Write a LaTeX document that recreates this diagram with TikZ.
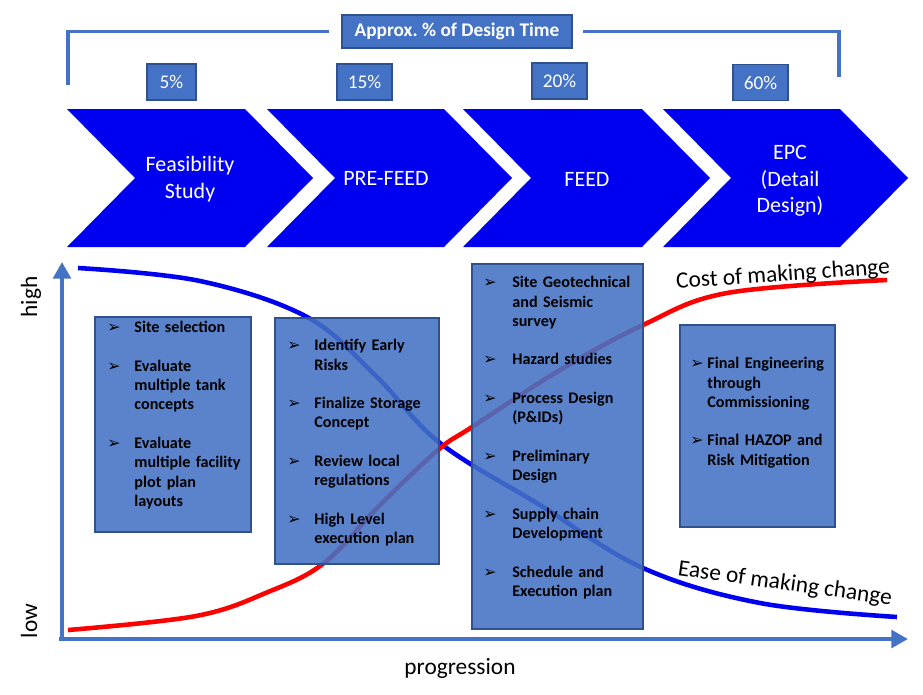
\documentclass[tikz,border=0pt]{standalone}
\usepackage{fontspec}
\setmainfont{Carlito}
\newfontfamily\bulletfont{DejaVu Sans}
\usepackage{tikz}
\usetikzlibrary{arrows.meta,fit,positioning}
\definecolor{chevblue}{HTML}{0000F0}
\definecolor{accblue}{HTML}{4472C4}
\definecolor{edgeblue}{HTML}{2F528F}
\definecolor{costred}{HTML}{FF0000}
\definecolor{easeblue}{HTML}{0000F0}
\newlength\bulletwd
\newcommand{\phaseitem}[1]{\par\noindent\hangindent=\bulletwd\hangafter=1\makebox[\bulletwd][l]{\bulletfont\fontsize{9}{9}\selectfont ➢}#1\par\vspace{11pt}}

\begin{document}
\begin{tikzpicture}[x=0.02cm, y=-0.02cm,
	axis/.style={line width=2.8pt, accblue, -{Triangle[width=10pt,length=9.5pt]}},
	bracket/.style={line width=1.8pt, accblue},
	chevron/.style={fill=chevblue},
	chevtext/.style={text=white, align=center, font=\fontsize{12.5}{15.2}\selectfont},
	pctbox/.style={draw=edgeblue, fill=accblue, line width=0.7pt, inner sep=0pt, minimum height=0.72cm, minimum width=1.1cm, text=white, font=\fontsize{11}{13}\selectfont},
	listbox/.style={draw=edgeblue, fill=accblue, fill opacity=0.88, line width=0.6pt, inner sep=0pt},
	listtext/.style={anchor=north west, inner sep=0pt, text width=#1, text=black, font=\fontsize{9.2}{11}\selectfont\bfseries},
	curvelabel/.style={text=black, inner sep=0pt, font=\fontsize{13.3}{16}\selectfont}]
	\useasboundingbox (0,0) rectangle (923,694);
	\node[pctbox, minimum width=4.6cm, minimum height=0.66cm, font=\fontsize{11}{13}\selectfont\bfseries] (title) at (457,31.5) {Approx.\ \% of Design Time};
	\coordinate (brl) at (68,85);
	\coordinate (brr) at (839,77);
	\draw[bracket] (brl) |- ([xshift=-0.24cm]title.west);
	\draw[bracket] ([xshift=0.2cm]title.east) -| (brr);
	\node[pctbox, minimum width=0.98cm] (p5) at (171.5,82) {5\%};
	\node[pctbox] (p15) at (364.5,82) {15\%};
	\node[pctbox] (p20) at (559.5,81) {20\%};
	\node[pctbox] (p60) at (760.5,82.5) {60\%};
	\fill[chevron] (67,109) -- ++(178,0) -- ++(68,69) -- ++(-68,69) -- ++(-178,0) -- ++(68,-69) -- cycle;
	\fill[chevron] (267,109) -- ++(177,0) -- ++(68,69) -- ++(-68,69) -- ++(-177,0) -- ++(68,-69) -- cycle;
	\fill[chevron] (463,109) -- ++(179,0) -- ++(68,69) -- ++(-68,69) -- ++(-179,0) -- ++(68,-69) -- cycle;
	\fill[chevron] (663,109) -- ++(177,0) -- ++(68,69) -- ++(-68,69) -- ++(-177,0) -- ++(68,-69) -- cycle;
	\node[chevtext] (feas) at (190,179) {Feasibility\\Study};
	\node[chevtext] (prefeed) at (386,178) {PRE-FEED};
	\node[chevtext] (feed) at (587,179) {FEED};
	\node[chevtext] (epc) at (790,181) {EPC\\(Detail\\Design)};
	\draw[axis] (62,641) -- (62,262);
	\draw[axis] (59,639) -- (908,639);
	\draw[line width=2.6pt, easeblue] plot[smooth, tension=0.6] coordinates {(78,268) (200,281) (307,317) (375,375) (440,443) (540,505) (643,568) (760,603) (897,617)};
	\draw[line width=2.6pt, costred] plot[smooth, tension=0.6] coordinates {(68,630) (196,616) (268,592) (324,563) (380,505) (438,450) (472,427) (560,370) (643,325) (727,293) (887,280)};
	\node[listbox, fit={(95,317) (251,532)}] (sitebox) {};
	\node[listbox, fit={(275,318) (439,564)}] (prebox) {};
	\node[listbox, fit={(472,264) (643,629)}] (feedbox) {};
	\node[listbox, fit={(680,325) (835,527)}] (epcbox) {};
	\node[listtext=2.95cm] (sitelist) at (107,313) {\setlength\bulletwd{15.4pt}%
		\phaseitem{Site selection}
		\phaseitem{Evaluate\newline multiple tank\newline concepts}
		\phaseitem{Evaluate\newline multiple facility\newline plot plan\newline layouts}};
	\node[listtext=3.1cm] (prelist) at (287,331) {\setlength\bulletwd{15.4pt}%
		\phaseitem{Identify Early\newline Risks}
		\phaseitem{Finalize Storage\newline Concept}
		\phaseitem{Review local\newline regulations}
		\phaseitem{High Level\newline execution plan}};
	\node[listtext=3.2cm] (feedlist) at (483,268) {\setlength\bulletwd{16.5pt}%
		\phaseitem{Site Geotechnical\newline and Seismic\newline survey}
		\phaseitem{Hazard studies}
		\phaseitem{Process Design\newline (P\&IDs)}
		\phaseitem{Preliminary\newline Design}
		\phaseitem{Supply chain\newline Development}
		\phaseitem{Schedule and\newline Execution plan}};
	\node[listtext=2.95cm] (epclist) at (690,349) {\setlength\bulletwd{9.7pt}%
		\phaseitem{Final Engineering\newline through\newline Commissioning}
		\phaseitem{Final HAZOP and\newline Risk Mitigation}};
	\node[curvelabel, rotate=4] (cost) at (783,275) {Cost of making change};
	\node[curvelabel, rotate=-8] (ease) at (785,584) {Ease of making change};
	\node[curvelabel, rotate=90] (high) at (31,297) {high};
	\node[curvelabel, rotate=90] (low) at (29,621) {low};
	\node[curvelabel] (prog) at (460,668) {progression};
\end{tikzpicture}
\end{document}
